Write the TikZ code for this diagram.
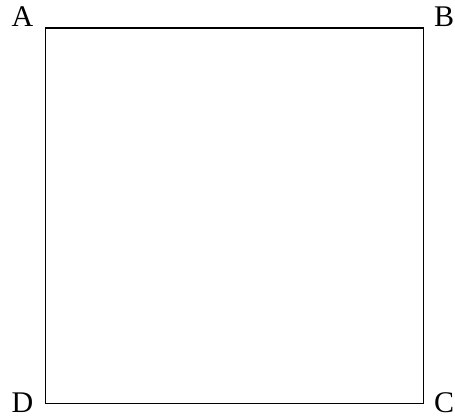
\documentclass[tikz,border=0pt]{standalone}
\usepackage{fontspec}
\setmainfont{Liberation Serif}
\begin{document}
\begin{tikzpicture}[x=1pt,y=1pt,
  lbl/.style={anchor=base,inner sep=0pt,font=\fontsize{30}{30}\selectfont},
  sq/.style={draw=black,line width=1.8pt}]
\useasboundingbox (0,0) rectangle (455,420);
\coordinate (cA) at (45.5,392);
\coordinate (cB) at (423.5,392);
\coordinate (cC) at (423.5,16.5);
\coordinate (cD) at (45.5,16.5);
\draw[sq] (cA) -- (cB) -- (cC) -- (cD) -- cycle;
\node[lbl] (A) at (22.5,393) {A};
\node[lbl] (B) at (444,393) {B};
\node[lbl] (C) at (444,7) {C};
\node[lbl] (D) at (22.5,7) {D};
\end{tikzpicture}
\end{document}
